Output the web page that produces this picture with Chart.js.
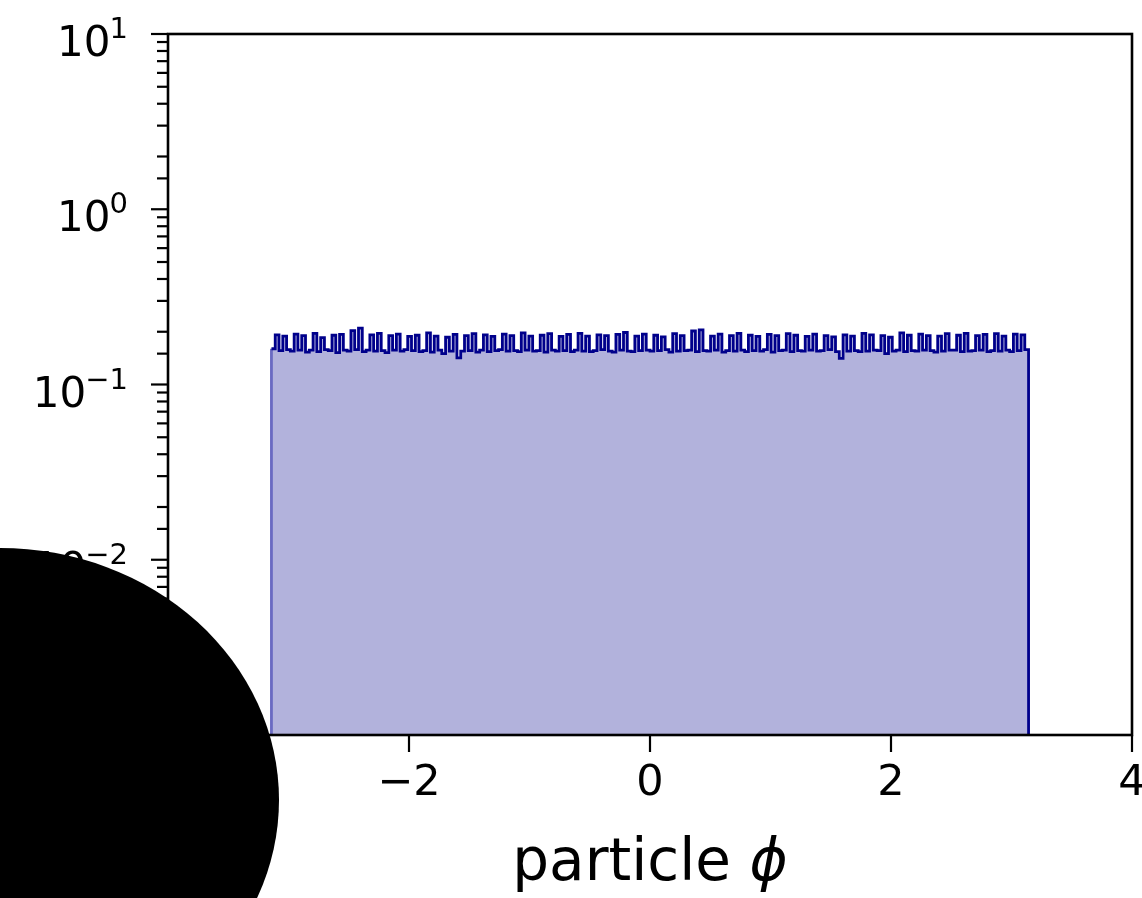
<!DOCTYPE html>
<html>
<head>
<meta charset="utf-8">
<script src="https://cdn.jsdelivr.net/npm/chart.js@4"></script>
<style>
  html, body { margin: 0; padding: 0; background: #fff; overflow: hidden; }
  canvas { display: block; }
</style>
</head>
<body>
<canvas id="phiChart" width="1160" height="898" style="width:1160px;height:898px"></canvas>
<script>
// histogram of particle phi, 200 bins over [-pi, pi]
const phiRange = [-Math.PI, Math.PI];
const phiCounts = [
  0.160, 0.192, 0.156, 0.189, 0.158, 0.155, 0.194, 0.157, 0.190, 0.153,
  0.157, 0.196, 0.154, 0.185, 0.158, 0.156, 0.191, 0.152, 0.193, 0.157,
  0.155, 0.203, 0.158, 0.210, 0.154, 0.157, 0.192, 0.155, 0.196, 0.156,
  0.152, 0.190, 0.157, 0.194, 0.155, 0.158, 0.188, 0.156, 0.191, 0.154,
  0.156, 0.197, 0.153, 0.189, 0.157, 0.150, 0.186, 0.155, 0.193, 0.142,
  0.155, 0.190, 0.156, 0.195, 0.153, 0.157, 0.192, 0.154, 0.188, 0.156,
  0.158, 0.194, 0.155, 0.190, 0.156, 0.154, 0.197, 0.157, 0.189, 0.155,
  0.156, 0.191, 0.153, 0.195, 0.157, 0.155, 0.188, 0.156, 0.193, 0.154,
  0.157, 0.196, 0.155, 0.189, 0.154, 0.156, 0.192, 0.158, 0.190, 0.155,
  0.153, 0.193, 0.157, 0.198, 0.155, 0.154, 0.189, 0.156, 0.194, 0.157,
  0.155, 0.191, 0.156, 0.187, 0.158, 0.153, 0.195, 0.155, 0.190, 0.156,
  0.157, 0.202, 0.154, 0.205, 0.156, 0.155, 0.189, 0.157, 0.194, 0.153,
  0.156, 0.190, 0.155, 0.196, 0.157, 0.154, 0.191, 0.156, 0.188, 0.155,
  0.158, 0.193, 0.153, 0.190, 0.156, 0.157, 0.195, 0.154, 0.191, 0.156,
  0.155, 0.188, 0.157, 0.194, 0.155, 0.156, 0.190, 0.158, 0.187, 0.154,
  0.141, 0.192, 0.155, 0.189, 0.156, 0.154, 0.196, 0.155, 0.192, 0.157,
  0.156, 0.190, 0.150, 0.186, 0.155, 0.157, 0.197, 0.154, 0.191, 0.156,
  0.155, 0.194, 0.157, 0.190, 0.156, 0.153, 0.189, 0.155, 0.195, 0.157,
  0.157, 0.191, 0.154, 0.196, 0.155, 0.156, 0.190, 0.157, 0.193, 0.154,
  0.156, 0.195, 0.155, 0.189, 0.157, 0.154, 0.194, 0.156, 0.192, 0.158
];
const xTicks = [-4, -2, 0, 2, 4];
const yDecades = [-3, -2, -1, 0, 1];
const yFloor = 1e-3;

const binWidth = (phiRange[1] - phiRange[0]) / phiCounts.length;
const points = [{ x: phiRange[0], y: yFloor }];
phiCounts.forEach((c, i) => points.push({ x: phiRange[0] + i * binWidth, y: c }));
points.push({ x: phiRange[1], y: phiCounts[phiCounts.length - 1] });
points.push({ x: phiRange[1], y: yFloor });

const FONT = '"DejaVu Sans", sans-serif';
const tickFont = { family: FONT, size: 43 };
const isDecade = v => { const e = Math.log10(v); return Math.abs(e - Math.round(e)) < 1e-9; };

// frame, tick marks, 10^n labels, axis label (matplotlib style)
const axesDecor = {
  id: 'axesDecor',
  afterDraw(chart) {
    const { ctx, chartArea: a, scales } = chart;
    ctx.save();
    ctx.strokeStyle = '#000';
    ctx.lineWidth = 2.2;
    scales.y.ticks.forEach(t => {
      const py = scales.y.getPixelForValue(t.value);
      const len = isDecade(t.value) ? 17 : 11;
      ctx.beginPath();
      ctx.moveTo(a.left - len, py);
      ctx.lineTo(a.left, py);
      ctx.stroke();
    });
    scales.x.ticks.forEach(t => {
      const px = scales.x.getPixelForValue(t.value);
      ctx.beginPath();
      ctx.moveTo(px, a.bottom);
      ctx.lineTo(px, a.bottom + 17);
      ctx.stroke();
    });
    ctx.lineWidth = 2.6;
    ctx.strokeRect(a.left, a.top, a.right - a.left, a.bottom - a.top);

    ctx.fillStyle = '#000';
    ctx.textBaseline = 'alphabetic';
    ctx.textAlign = 'right';
    const labelRight = a.left - 40;
    yDecades.forEach(d => {
      const py = scales.y.getPixelForValue(Math.pow(10, d));
      const exp = d < 0 ? '−' + Math.abs(d) : String(d);
      ctx.font = '29px ' + FONT;
      const ew = ctx.measureText(exp).width;
      ctx.fillText(exp, labelRight, py + 4);
      ctx.font = '42px ' + FONT;
      ctx.fillText('10', labelRight - ew + 1, py + 22);
    });

    ctx.textAlign = 'left';
    const base = '58px ' + FONT;
    const ital = 'italic 58px ' + FONT;
    ctx.font = base;
    const w1 = ctx.measureText('particle ').width;
    ctx.font = ital;
    const w2 = ctx.measureText('ϕ').width;
    const x0 = (a.left + a.right) / 2 - (w1 + w2) / 2;
    ctx.font = base;
    ctx.fillText('particle ', x0, 880);
    ctx.font = ital;
    ctx.fillText('ϕ', x0 + w1, 880);

    // black blot over the lower left corner
    ctx.beginPath();
    ctx.ellipse(0, 800, 279, 252, 0, 0, Math.PI * 2);
    ctx.fill();
    ctx.restore();
  }
};

new Chart(document.getElementById('phiChart'), {
  type: 'line',
  data: {
    datasets: [{
      data: points,
      stepped: true,
      fill: 'start',
      backgroundColor: 'rgb(178,178,220)',
      borderColor: '#00008b',
      borderWidth: 2.8,
      pointRadius: 0,
      segment: {
        borderColor: c => c.p0DataIndex === 0 ? '#6a6ac2' : '#00008b'
      }
    }]
  },
  options: {
    responsive: false,
    animation: false,
    devicePixelRatio: 1,
    layout: { padding: { top: 34, right: 28, left: 0, bottom: 0 } },
    plugins: { legend: { display: false }, tooltip: { enabled: false } },
    scales: {
      x: {
        type: 'linear',
        min: -4,
        max: 4,
        afterBuildTicks: s => { s.ticks = xTicks.map(v => ({ value: v })); },
        afterFit: s => { s.height = 163; },
        ticks: {
          font: tickFont, color: '#000', padding: 6, maxRotation: 0, autoSkip: false,
          callback: v => v < 0 ? '−' + Math.abs(v) : String(v)
        },
        grid: { display: true, drawOnChartArea: false, drawTicks: true, tickLength: 17, tickColor: 'rgba(0,0,0,0)' },
        border: { display: false }
      },
      y: {
        type: 'logarithmic',
        min: yFloor,
        max: 10,
        afterFit: s => { s.width = 168; },
        ticks: { display: false, autoSkip: false },
        grid: { display: false },
        border: { display: false }
      }
    }
  },
  plugins: [axesDecor]
});
</script>
</body>
</html>
